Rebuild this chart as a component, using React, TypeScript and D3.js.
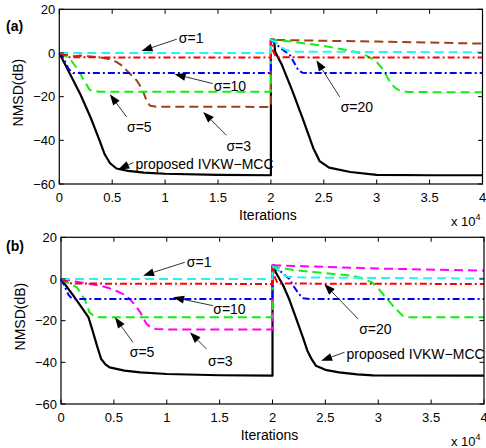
import React from 'react';
import { scaleLinear, line, curveLinear } from 'd3';

type Pt = [number, number];

// x in units of 10^4 iterations, y in dB
const xTicks = [0, 0.5, 1, 1.5, 2, 2.5, 3, 3.5, 4];
const xTickLabels = ['0', '0.5', '1', '1.5', '2', '2.5', '3', '3.5', '4'];
const yTicks = [20, 0, -20, -40, -60];
const yTickLabels = ['20', '0', '\u221220', '\u221240', '\u221260'];

// panel (a)
const aProposed: Pt[] = [[0, 0], [0.1, -9.5], [0.2, -19], [0.3, -30], [0.38, -40], [0.43, -46.5], [0.48, -50.5], [0.54, -52.9], [0.65, -54], [0.8, -54.8], [1, -55.3], [1.5, -55.8], [2, -56], [2, 6.1], [2.03, 6.1], [2.04, 0.5], [2.1, -5], [2.2, -17], [2.3, -30], [2.4, -43.5], [2.46, -49.5], [2.55, -52.5], [2.75, -54.5], [3, -55.8], [3.5, -56], [4, -56]];
const aSigma1: Pt[] = [[0, 0], [2, 0], [2, 6], [2.05, 4.8], [2.1, 2.5], [2.15, 1.2], [2.25, 0.6], [4, 0.3]];
const aSigma20: Pt[] = [[0, 0], [0.05, -1], [0.1, -2], [2, -2.1], [2, 6], [2.02, 1], [2.05, -2], [4, -2.1]];
const aSigma10: Pt[] = [[0, 0], [0.02, -0.3], [0.05, -3.5], [0.085, -7.1], [0.13, -9.2], [2, -9.2], [2, 6], [2.05, 4], [2.1, 2], [2.18, -1], [2.22, -4.5], [2.26, -7.9], [2.3, -9.1], [2.35, -9.2], [4, -9.2]];
const aSigma5: Pt[] = [[0, 0], [0.02, -0.3], [0.1, -2.6], [0.18, -7.9], [0.24, -13.3], [0.29, -17], [0.38, -17.8], [2, -17.8], [2, 6], [2.2, 5.2], [2.46, 3.5], [2.7, 1.5], [2.87, -0.3], [2.95, -2.5], [3, -4.1], [3.05, -7], [3.09, -10.2], [3.13, -13.5], [3.17, -15.8], [3.22, -17.3], [3.3, -17.9], [4, -18]];
const aSigma3: Pt[] = [[0, 0], [0.08, -1], [0.15, -1.5], [0.2, -1.2], [0.3, -1.6], [0.39, -2.1], [0.47, -2.8], [0.54, -4.1], [0.6, -6], [0.65, -8.7], [0.7, -11], [0.73, -12.5], [0.77, -15.5], [0.8, -18.6], [0.83, -22.5], [0.86, -24.2], [0.92, -24.6], [2, -24.7], [2, 6], [3, 5.2], [4, 4.3]];

// panel (b)
const bProposed: Pt[] = [[0, 0], [0.117, -8], [0.2, -14], [0.26, -18.4], [0.3, -25], [0.34, -32], [0.38, -38.4], [0.42, -41], [0.46, -42.4], [0.6, -44], [0.75, -44.8], [1, -45.6], [1.5, -46.2], [2, -46.4], [2, 6.4], [2.02, 6.4], [2.03, 3.2], [2.1, -3], [2.16, -10], [2.22, -18.4], [2.28, -27], [2.33, -34.4], [2.37, -38.5], [2.41, -41.6], [2.5, -43.6], [2.63, -44.8], [2.8, -45.8], [2.95, -46.3], [4, -46.4]];
const bSigma1: Pt[] = [[0, 0], [2, 0], [2, 6], [2.05, 4.5], [2.1, 2], [2.15, 1], [2.3, 0.7], [4, 0.2]];
const bSigma20: Pt[] = [[0, 0], [0.05, -1], [0.1, -2.2], [2, -2.4], [2, 6], [2.02, 1], [2.05, -2.2], [4, -2.4]];
const bSigma10: Pt[] = [[0, 0], [0.03, -3], [0.07, -7.5], [0.1, -9.3], [0.15, -9.6], [2, -9.6], [2, 6], [2.08, 3.5], [2.16, 0], [2.2, -3.5], [2.25, -7.2], [2.29, -9.2], [2.35, -9.6], [4, -9.6]];
const bSigma5: Pt[] = [[0, 0], [0.05, -1.6], [0.1, -2.5], [0.15, -4], [0.19, -7], [0.23, -10.4], [0.27, -16], [0.31, -17.8], [0.37, -18.4], [2, -18.4], [2, 6], [2.2, 4.3], [2.41, 3.2], [2.6, 2.3], [2.75, 1.6], [2.85, 0.2], [2.94, -1.6], [3, -4.5], [3.07, -8.8], [3.15, -13.5], [3.23, -17.6], [3.29, -18.4], [4, -18.4]];
const bSigma3: Pt[] = [[0, 0], [0.08, -0.8], [0.15, -1.3], [0.25, -2.2], [0.37, -3.2], [0.45, -4.3], [0.53, -5.9], [0.6, -7.5], [0.65, -9.6], [0.7, -12.5], [0.75, -16], [0.78, -19], [0.81, -21.6], [0.85, -23.3], [0.9, -24], [1, -24.2], [2, -24.2], [2, 6.6], [3, 5], [4, 4]];

// annotations: label, text anchor (x,y), arrow tail -> head
const aNotes = [
  { text: '\u03c3=1', tx: 1.13, ty: 6.7, x0: 1.11, y0: 6.3, x1: 0.777, y1: 0.9 },
  { text: '\u03c3=10', tx: 1.46, ty: -15.3, x0: 1.45, y0: -14, x1: 1.09, y1: -9.7 },
  { text: '\u03c3=5', tx: 0.64, ty: -33.9, x0: 0.636, y0: -29.3, x1: 0.478, y1: -18.9 },
  { text: '\u03c3=3', tx: 1.58, ty: -42.6, x0: 1.58, y0: -37.7, x1: 1.36, y1: -27 },
  { text: 'proposed IVKW\u2212MCC', tx: 0.72, ty: -50.6, x0: 0.7, y0: -50.2, x1: 0.557, y1: -53.4 },
  { text: '\u03c3=20', tx: 2.66, ty: -24.7, x0: 2.65, y0: -20.1, x1: 2.43, y1: -3.3 },
];
const bNotes = [
  { text: '\u03c3=1', tx: 1.19, ty: 8.4, x0: 1.17, y0: 8.0, x1: 0.776, y1: 1.6 },
  { text: '\u03c3=10', tx: 1.44, ty: -14.4, x0: 1.437, y0: -12.8, x1: 1.06, y1: -8.8 },
  { text: '\u03c3=5', tx: 0.65, ty: -35.2, x0: 0.68, y0: -30.4, x1: 0.51, y1: -18.4 },
  { text: '\u03c3=3', tx: 1.39, ty: -39.2, x0: 1.375, y0: -33.6, x1: 1.22, y1: -25.6 },
  { text: '\u03c3=20', tx: 2.82, ty: -24, x0: 2.81, y0: -19.2, x1: 2.49, y1: -2.4 },
  { text: 'proposed IVKW\u2212MCC', tx: 2.7, ty: -36, x0: 2.68, y0: -35.2, x1: 2.46, y1: -39.2 },
];

const FONT = '"Liberation Sans", Arial, Helvetica, sans-serif';

const CYAN = '#22f5f5';
const RED = '#ff0000';
const BLUE = '#0000ff';
const GREEN = '#11ee11';
const BROWN = '#a0401a';
const MAGENTA = '#ff00ff';

const DASH = '9 5';
const DASHDOT = '7 3 2 3';

const aSeries = [
  { data: aProposed, color: '#000', dash: null, w: 2.2 },
  { data: aSigma3, color: BROWN, dash: DASH, w: 2 },
  { data: aSigma5, color: GREEN, dash: DASH, w: 2 },
  { data: aSigma10, color: BLUE, dash: DASHDOT, w: 2 },
  { data: aSigma20, color: RED, dash: DASHDOT, w: 2 },
  { data: aSigma1, color: CYAN, dash: DASH, w: 2 },
];
const bSeries = [
  { data: bProposed, color: '#000', dash: null, w: 2.2 },
  { data: bSigma3, color: MAGENTA, dash: DASH, w: 2 },
  { data: bSigma5, color: GREEN, dash: DASH, w: 2 },
  { data: bSigma10, color: BLUE, dash: DASHDOT, w: 2 },
  { data: bSigma20, color: RED, dash: DASHDOT, w: 2 },
  { data: bSigma1, color: CYAN, dash: DASH, w: 2 },
];

function Arrow({ x0, y0, x1, y1 }: { x0: number; y0: number; x1: number; y1: number }) {
  const ang = Math.atan2(y1 - y0, x1 - x0);
  const L = 11;
  const W = 4;
  const bx = x1 - L * Math.cos(ang);
  const by = y1 - L * Math.sin(ang);
  const px = -Math.sin(ang) * W;
  const py = Math.cos(ang) * W;
  return (
    <g>
      <line x1={x0} y1={y0} x2={bx} y2={by} stroke="#000" strokeWidth={0.8} />
      <polygon points={`${x1},${y1} ${bx + px},${by + py} ${bx - px},${by - py}`} fill="#000" />
    </g>
  );
}

function Panel({ left, right, top, bottom, series, notes, tag }: any) {
  const x = scaleLinear().domain([0, 4]).range([left, right]);
  const y = scaleLinear().domain([-60, 20]).range([bottom, top]);
  const path = line<Pt>().x((d) => x(d[0])).y((d) => y(d[1])).curve(curveLinear);
  const tk = 4.5;
  return (
    <g fontFamily={FONT}>
      {series.map((s: any, i: number) => (
        <path key={i} d={path(s.data) || ''} fill="none" stroke={s.color} strokeWidth={s.w}
          strokeDasharray={s.dash || undefined} strokeLinejoin="round" />
      ))}
      <rect x={left} y={top} width={right - left} height={bottom - top} fill="none" stroke="#000" strokeWidth={1.2} />
      {xTicks.map((t, i) => (
        <g key={'x' + i}>
          <line x1={x(t)} x2={x(t)} y1={bottom} y2={bottom - tk} stroke="#000" strokeWidth={1} />
          <line x1={x(t)} x2={x(t)} y1={top} y2={top + tk} stroke="#000" strokeWidth={1} />
          <text x={x(t)} y={bottom + 18} fontSize={13} textAnchor="middle">{xTickLabels[i]}</text>
        </g>
      ))}
      {yTicks.map((t, i) => (
        <g key={'y' + i}>
          <line x1={left} x2={left + tk} y1={y(t)} y2={y(t)} stroke="#000" strokeWidth={1} />
          <line x1={right} x2={right - tk} y1={y(t)} y2={y(t)} stroke="#000" strokeWidth={1} />
          <text x={left - 4} y={y(t)} dy="0.36em" fontSize={13} textAnchor="end">{yTickLabels[i]}</text>
        </g>
      ))}
      <text x={(left + right) / 2 - 3} y={bottom + 36} fontSize={14} textAnchor="middle">Iterations</text>
      <text x={451} y={bottom + (tag === '(a)' ? 42 : 42)} fontSize={13}>
        x 10<tspan dy={-6} fontSize={9}>4</tspan>
      </text>
      <text transform={`translate(${left - 36},${(top + bottom) / 2 - 4}) rotate(-90)`} fontSize={14} textAnchor="middle">NMSD(dB)</text>
      <text x={6} y={top + (tag === '(a)' ? 22 : 14)} fontSize={14} fontWeight="bold">{tag}</text>
      {notes.map((n: any, i: number) => (
        <g key={'n' + i}>
          <Arrow x0={x(n.x0)} y0={y(n.y0)} x1={x(n.x1)} y1={y(n.y1)} />
          <text x={x(n.tx)} y={y(n.ty)} dy="0.36em" fontSize={14}>{n.text}</text>
        </g>
      ))}
    </g>
  );
}

export default function App() {
  return (
    <svg width={486} height={448} style={{ position: 'absolute', left: 0, top: 0, background: '#fff' }}>
      <rect width={486} height={448} fill="#fff" />
      <Panel left={59.3} right={482.5} top={9.3} bottom={184} series={aSeries} notes={aNotes} tag="(a)" />
      <Panel left={61} right={484} top={237.3} bottom={404} series={bSeries} notes={bNotes} tag="(b)" />
    </svg>
  );
}
